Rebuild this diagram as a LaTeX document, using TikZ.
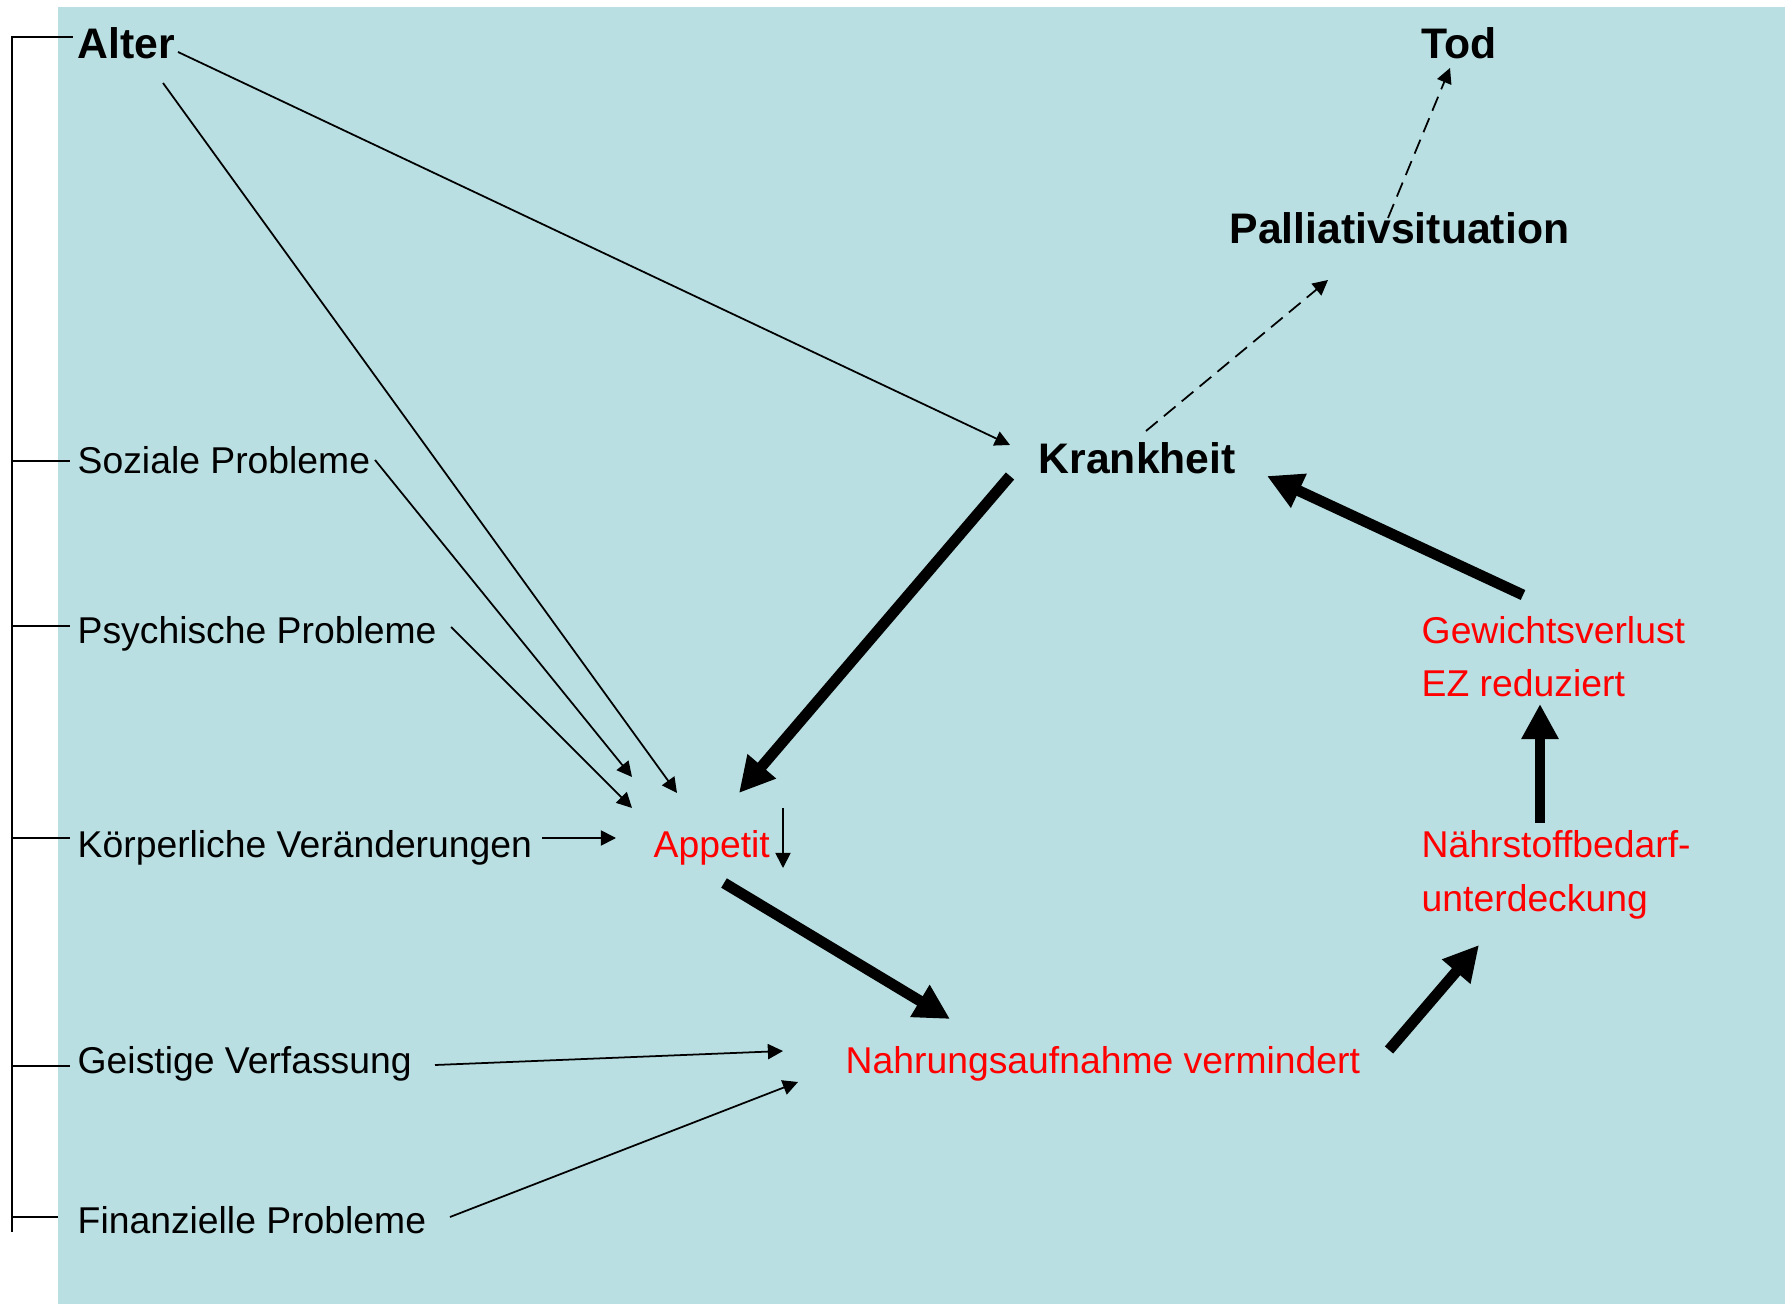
\documentclass[tikz,border=0pt]{standalone}
\usepackage{fontspec}
\setmainfont{Liberation Sans}
\usetikzlibrary{arrows.meta}
\definecolor{bgteal}{RGB}{185,223,226}
\definecolor{txtred}{RGB}{255,0,0}
\begin{document}
\begin{tikzpicture}[x=0.01cm,y=-0.01cm,
  lbl/.style={anchor=base west, inner sep=0pt, font=\fontsize{10.61pt}{12pt}\selectfont},
  boldlbl/.style={lbl, font=\fontsize{12.15pt}{14pt}\selectfont\bfseries},
  redlbl/.style={lbl, text=txtred},
  thinarrow/.style={line width=0.5pt, -{Triangle[length=4.3pt,width=4.3pt]}},
  dasharrow/.style={thinarrow, dash pattern=on 4.3pt off 2.3pt},
  thickarrow/.style={line width=3.1pt, -{Triangle[length=10pt,width=10pt]}},
  bracket/.style={line width=0.55pt}
]
\useasboundingbox (0,0) rectangle (1785,1304);
\fill[bgteal] (58,7) rectangle (1785,1304);

% bracket
\draw[bracket] (73,37) -- (12,37) -- (12,1232);
\draw[bracket] (12,461) -- (70,461);
\draw[bracket] (12,626) -- (70,626);
\draw[bracket] (12,838) -- (70,838);
\draw[bracket] (12,1066) -- (70,1066);
\draw[bracket] (12,1217) -- (58,1217);

% nodes
\node[boldlbl] (alter) at (77,59) {Alter};
\node[boldlbl] (tod) at (1421,59) {Tod};
\node[boldlbl] (pall) at (1229,244) {Palliativsituation};
\node[boldlbl] (krank) at (1038,474) {Krankheit};
\node[lbl] (soz) at (77,474) {Soziale Probleme};
\node[lbl] (psy) at (77,644) {Psychische Probleme};
\node[lbl] (koerp) at (77,858) {Körperliche Veränderungen};
\node[lbl] (geist) at (77,1073) {Geistige Verfassung};
\node[lbl] (finanz) at (77,1233) {Finanzielle Probleme};
\node[redlbl] (appetit) at (653,858) {Appetit};
\node[redlbl] (nahrung) at (845,1073) {Nahrungsaufnahme vermindert};
\node[redlbl] (gew) at (1421,644) {Gewichtsverlust};
\node[redlbl] (ez) at (1421,697) {EZ reduziert};
\node[redlbl] (naehr) at (1421,858) {Nährstoffbedarf-};
\node[redlbl] (unter) at (1421,912) {unterdeckung};

% thin arrows
\draw[thinarrow] ([shift={(101,-7)}]alter.base west) -- ([shift={(-28,-29)}]krank.base west);
\draw[thinarrow] ([shift={(86,24)}]alter.base west) -- ([shift={(24,-65)}]appetit.base west);
\draw[thinarrow] ([shift={(298,-14)}]soz.base west) -- ([shift={(-21,-81)}]appetit.base west);
\draw[thinarrow] ([shift={(374,-17)}]psy.base west) -- ([shift={(-21,-50)}]appetit.base west);
\draw[thinarrow] ([shift={(465,-20)}]koerp.base west) -- ([shift={(-37,-20)}]appetit.base west);
\draw[thinarrow] ([shift={(130,-50)}]appetit.base west) -- ([shift={(130,10)}]appetit.base west);
\draw[thinarrow] ([shift={(358,-8)}]geist.base west) -- ([shift={(-62,-22)}]nahrung.base west);
\draw[thinarrow] ([shift={(373,-16)}]finanz.base west) -- ([shift={(-47,9)}]nahrung.base west);

% dashed arrows
\draw[dasharrow] ([shift={(108,-43)}]krank.base west) -- ([shift={(99,36)}]pall.base west);
\draw[dasharrow] ([shift={(159,-26)}]pall.base west) -- ([shift={(29,9)}]tod.base west);

% thick arrows
\draw[thickarrow] ([shift={(-28,2)}]krank.base west) -- ([shift={(86,-65)}]appetit.base west);
\draw[thickarrow] ([shift={(71,25)}]appetit.base west) -- ([shift={(105,-54)}]nahrung.base west);
\draw[thickarrow] ([shift={(544,-23)}]nahrung.base west) -- ([shift={(58,33)}]unter.base west);
\draw[thickarrow] ([shift={(119,-35)}]naehr.base west) -- ([shift={(119,7)}]ez.base west);
\draw[thickarrow] ([shift={(102,-49)}]gew.base west) -- ([shift={(229,2)}]krank.base west);
\end{tikzpicture}
\end{document}
